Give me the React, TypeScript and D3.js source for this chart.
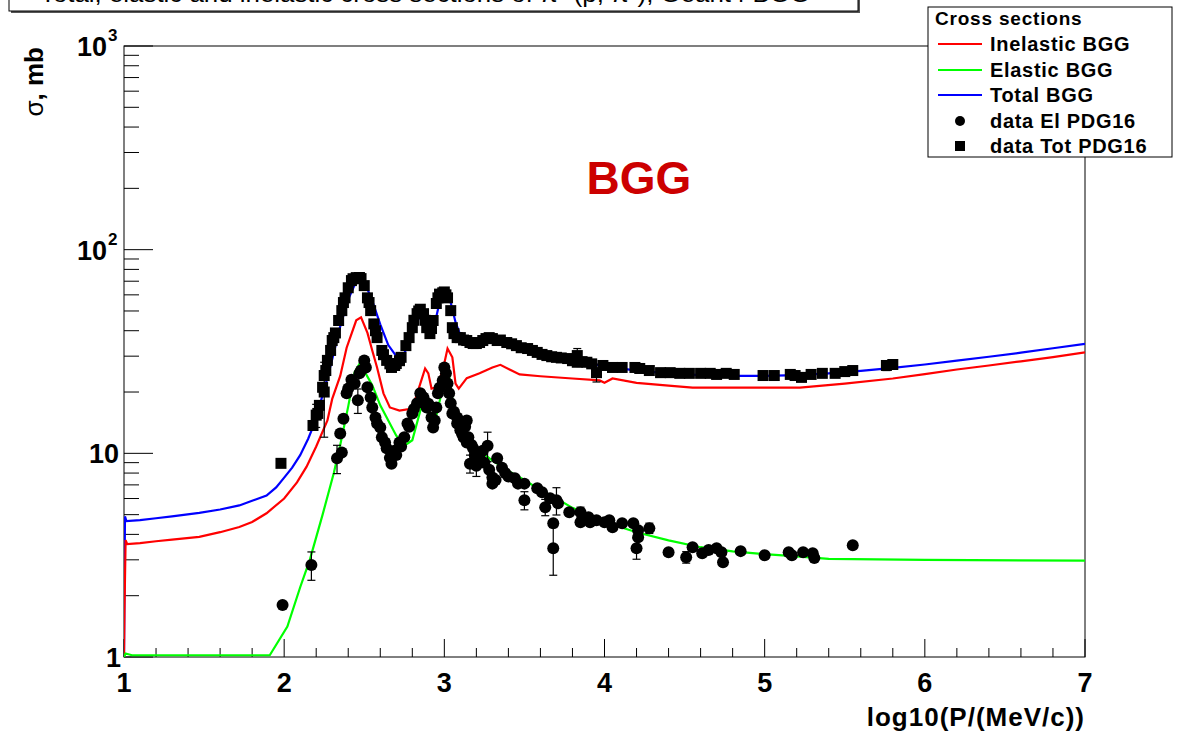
import React from "react";
import * as d3 from "d3";

// ---- data ----
const xTicks = [1, 2, 3, 4, 5, 6, 7];
const yDecades = [1, 10, 100, 1000];

const totalBGG: [number, number][] = [
  [1.0, 1.0], [1.002, 1.75], [1.006, 4.9], [1.015, 4.65], [1.1, 4.7], [1.2, 4.8], [1.3, 4.9], [1.47, 5.1],
  [1.6, 5.3], [1.72, 5.55], [1.8, 5.85], [1.89, 6.2], [1.95, 6.8], [2.0, 7.6], [2.05, 8.5], [2.1, 9.8],
  [2.15, 11.8], [2.18, 13.5], [2.22, 17], [2.26, 22], [2.3, 29], [2.35, 42], [2.4, 57], [2.45, 70],
  [2.48, 73], [2.5, 70], [2.55, 56], [2.6, 43], [2.65, 34], [2.7, 30], [2.75, 31], [2.8, 38], [2.84, 46],
  [2.87, 48], [2.9, 42], [2.93, 40], [2.97, 55], [3.0, 62], [3.03, 59], [3.07, 44], [3.1, 38], [3.15, 35],
  [3.2, 34.5], [3.3, 36], [3.35, 36.5], [3.4, 35.5], [3.5, 33.5], [3.6, 31.5], [3.7, 30], [3.8, 28.8],
  [3.9, 27.7], [4.0, 26.8], [4.2, 25.5], [4.4, 24.7], [4.6, 24.2], [4.8, 24.0], [5.0, 24.0], [5.2, 24.2],
  [5.4, 24.7], [5.6, 25.4], [5.8, 26.3], [6.0, 27.3], [6.2, 28.5], [6.4, 29.8], [6.6, 31.2], [6.8, 32.8],
  [7.0, 34.5],
];

const inelasticBGG: [number, number][] = [
  [1.0, 1.0], [1.003, 1.7], [1.01, 3.75], [1.02, 3.58], [1.1, 3.62], [1.2, 3.7], [1.3, 3.77], [1.47, 3.89],
  [1.6, 4.1], [1.72, 4.35], [1.8, 4.6], [1.89, 5.08], [2.0, 6.0], [2.08, 7.2], [2.14, 8.6], [2.2, 10.8],
  [2.27, 14.5], [2.3, 18.5], [2.35, 24], [2.39, 33], [2.45, 45], [2.48, 46.5], [2.52, 39], [2.55, 32],
  [2.58, 26.4], [2.62, 19.7], [2.66, 16.8], [2.72, 16.2], [2.8, 16.6], [2.85, 22], [2.88, 26.1], [2.9, 24.7],
  [2.92, 20.8], [2.95, 21.1], [2.99, 25.5], [3.02, 32.7], [3.05, 29.6], [3.07, 22], [3.09, 20.8],
  [3.14, 23.4], [3.22, 24.7], [3.3, 26.4], [3.35, 27.2], [3.42, 25.5], [3.47, 24.4], [3.6, 23.9],
  [3.8, 23.3], [3.97, 22.8], [4.0, 22.2], [4.05, 23.3], [4.2, 22.2], [4.4, 21.5], [4.55, 21.0], [5.0, 21.0],
  [5.22, 21.0], [5.5, 22], [5.8, 23.3], [6.0, 24.5], [6.2, 25.8], [6.4, 27.0], [6.6, 28.3], [6.8, 29.7],
  [7.0, 31.3],
];

const elasticBGG: [number, number][] = [
  [1.0, 1.0], [1.01, 1.04], [1.05, 1.02], [1.91, 1.02], [2.02, 1.41], [2.1, 2.2], [2.16, 3.0], [2.24, 5.0],
  [2.31, 8.0], [2.35, 11.0], [2.4, 17], [2.44, 25], [2.47, 27.5], [2.5, 25.4], [2.55, 21.6], [2.6, 17.2],
  [2.7, 12.2], [2.75, 10.9], [2.8, 11.6], [2.85, 16.2], [2.88, 19.2], [2.91, 18], [2.95, 15.3], [3.0, 22.8],
  [3.03, 24.1], [3.06, 16.2], [3.1, 12.9], [3.2, 10.6], [3.3, 9.2], [3.4, 8.2], [3.5, 7.4], [3.6, 6.6],
  [3.7, 6.0], [3.8, 5.4], [3.9, 5.0], [4.0, 4.6], [4.2, 4.1], [4.4, 3.74], [4.6, 3.46], [4.8, 3.3],
  [5.0, 3.2], [5.2, 3.12], [5.4, 3.03], [6.0, 3.0], [7.0, 2.97],
];

// [log10 P, sigma (mb), error (mb)]
const dataElPDG16: [number, number, number][] = [
  [1.99, 1.8, 0], [2.17, 2.83, 0.45], [2.33, 9.45, 1.5], [2.35, 12.5, 0], [2.36, 10.1, 0], [2.37, 14.8, 0],
  [2.39, 19.7, 0], [2.4, 20.8, 0], [2.42, 23, 0], [2.44, 22.0, 0], [2.46, 18.2, 2.5], [2.47, 24.7, 0],
  [2.48, 25.5, 0], [2.5, 28.6, 0],
  [2.51, 26.4, 0], [2.52, 21.1, 0], [2.54, 18.8, 0], [2.55, 16.8, 0], [2.57, 15.0, 0], [2.58, 14, 0],
  [2.6, 13.4, 0], [2.61, 12.0, 0], [2.63, 11.3, 0], [2.64, 10.6, 0], [2.66, 9.5, 0], [2.67, 8.9, 0],
  [2.69, 10.3, 0], [2.7, 9.8, 0], [2.72, 11.3, 0], [2.73, 10.8, 0],
  [2.75, 12.0, 0], [2.77, 14.0, 0], [2.78, 13.5, 0], [2.8, 15.7, 0], [2.81, 16.5, 0], [2.83, 17.6, 0],
  [2.85, 19.7, 0], [2.86, 19, 0], [2.87, 18.8, 0],
  [2.89, 16.8, 0], [2.9, 17.5, 0], [2.92, 15.0, 0], [2.93, 13.4, 0], [2.94, 14.5, 0], [2.95, 16.8, 0],
  [2.96, 19.7, 0], [2.97, 21, 0], [2.99, 22.8, 0],
  [3.0, 26.4, 0], [3.01, 24.7, 0], [3.02, 22.0, 0], [3.03, 19.7, 0], [3.04, 17.6, 0], [3.05, 15.7, 0],
  [3.06, 16, 0], [3.08, 14.0, 0], [3.08, 15.0, 0], [3.09, 14.5, 0], [3.1, 13.0, 0], [3.11, 12.5, 0],
  [3.12, 12, 0], [3.13, 13.5, 0], [3.14, 11.3, 0], [3.14, 14.5, 0],
  [3.15, 12.0, 0], [3.16, 8.9, 0.9], [3.17, 11, 0], [3.18, 10.6, 0], [3.19, 9.8, 0], [3.2, 8.7, 1.0],
  [3.21, 10.0, 0], [3.22, 9.5, 0], [3.24, 10.3, 0], [3.25, 9.0, 0],
  [3.27, 10.9, 1.8], [3.28, 8.3, 0], [3.3, 7.6, 0], [3.3, 7.1, 0], [3.32, 7.4, 0], [3.33, 9.45, 0],
  [3.36, 8.5, 0], [3.38, 8.0, 0], [3.4, 7.7, 0], [3.44, 7.54, 0],
  [3.46, 7.1, 0], [3.5, 7.1, 0], [3.5, 5.88, 0.6], [3.58, 6.74, 0], [3.61, 6.44, 0], [3.63, 5.44, 0.5],
  [3.66, 6.02, 0], [3.68, 4.54, 0], [3.68, 3.42, 0.9], [3.7, 5.88, 0.9], [3.71, 5.69, 0], [3.78, 5.14, 0],
  [3.85, 5.14, 0.3], [3.85, 4.59, 0], [3.9, 4.86, 0], [3.91, 4.59, 0], [3.95, 4.69, 0], [4.0, 4.59, 0],
  [4.03, 4.69, 0], [4.05, 4.34, 0], [4.11, 4.54, 0], [4.18, 4.54, 0], [4.21, 4.19, 0], [4.21, 3.87, 0],
  [4.2, 3.42, 0.4], [4.28, 4.29, 0.25], [4.4, 3.27, 0], [4.51, 3.09, 0.2], [4.55, 3.46, 0], [4.61, 3.23, 0],
  [4.65, 3.35, 0], [4.7, 3.42, 0], [4.73, 3.27, 0], [4.74, 2.92, 0], [4.85, 3.31, 0], [5.0, 3.16, 0],
  [5.15, 3.27, 0], [5.17, 3.16, 0], [5.24, 3.27, 0], [5.3, 3.23, 0], [5.31, 3.06, 0], [5.55, 3.54, 0],
];

const dataTotPDG16: [number, number, number][] = [
  [1.98, 8.93, 0], [2.18, 13.7, 0], [2.2, 15.4, 2.0], [2.21, 15.7, 0], [2.22, 17.2, 0], [2.24, 21.1, 0],
  [2.25, 20, 8], [2.25, 24.1, 0], [2.26, 25.5, 0], [2.27, 28.6, 0], [2.29, 32.0, 0], [2.3, 35.8, 0],
  [2.31, 37, 0], [2.32, 39.0, 0], [2.34, 44.9, 0], [2.36, 50.2, 0], [2.37, 55, 0], [2.38, 58, 0],
  [2.4, 65, 0], [2.42, 70.5, 0], [2.43, 72, 0], [2.45, 72.9, 0], [2.47, 73, 0], [2.48, 72.1, 0],
  [2.5, 66.6, 0], [2.52, 58, 0], [2.53, 55, 0], [2.54, 50.2, 0], [2.56, 43.2, 0], [2.57, 40, 0],
  [2.58, 37.0, 0], [2.61, 32.0, 0], [2.62, 30.5, 0], [2.64, 28.6, 0], [2.66, 27.5, 0], [2.67, 26.4, 0],
  [2.69, 27, 0], [2.7, 27.6, 0], [2.72, 28.5, 0], [2.73, 29.6, 0], [2.76, 33.8, 0], [2.78, 37, 0],
  [2.8, 41.4, 0], [2.81, 45, 0], [2.83, 48.5, 0], [2.84, 50, 0], [2.85, 51, 0], [2.87, 48.5, 0],
  [2.88, 45, 0], [2.89, 41.4, 0], [2.91, 38.7, 0], [2.92, 41, 0], [2.93, 44.9, 0], [2.95, 54.4, 0],
  [2.96, 58, 0], [2.97, 60.5, 0], [2.99, 61.4, 0], [3.0, 62, 0], [3.01, 60, 0], [3.02, 58, 0],
  [3.04, 50.2, 0], [3.05, 41.4, 0], [3.06, 38.7, 0], [3.08, 37.0, 0], [3.1, 37, 0], [3.12, 36, 0],
  [3.14, 35.8, 0], [3.16, 35, 0], [3.18, 34.6, 0], [3.2, 34.6, 0], [3.22, 35.0, 0], [3.24, 35.8, 0],
  [3.26, 36.6, 0], [3.28, 37, 0], [3.3, 36.6, 0], [3.33, 35.8, 0], [3.35, 36, 0], [3.39, 35.0, 0],
  [3.42, 34.5, 0], [3.45, 33.8, 0], [3.48, 33, 0], [3.52, 32.7, 0], [3.55, 32, 0], [3.58, 31.3, 0],
  [3.61, 30.6, 0], [3.64, 30.2, 0], [3.67, 29.8, 0], [3.7, 29.6, 0], [3.73, 29.4, 0], [3.77, 29.2, 0],
  [3.8, 28.5, 0], [3.83, 30.2, 2.5], [3.83, 28.0, 0], [3.86, 28.2, 0], [3.89, 28.0, 0], [3.92, 27.5, 0],
  [3.95, 24.9, 2.5], [3.99, 27.0, 0], [4.05, 26.4, 0], [4.11, 26.4, 0], [4.19, 26.4, 0], [4.22, 26.1, 1.3],
  [4.28, 25.5, 0], [4.35, 24.9, 0], [4.41, 24.9, 0], [4.47, 24.7, 0], [4.53, 24.7, 0], [4.6, 24.7, 0],
  [4.66, 24.7, 0], [4.7, 24.4, 0], [4.76, 24.7, 0], [4.81, 24.4, 0], [4.99, 24.1, 0], [5.06, 24.1, 0],
  [5.16, 24.4, 0], [5.19, 24.1, 0], [5.23, 23.6, 0], [5.29, 24.4, 0], [5.36, 24.7, 0], [5.44, 24.7, 0],
  [5.5, 25.2, 0], [5.55, 25.5, 0], [5.76, 27.0, 1.5], [5.8, 27.3, 0],
];

const legendEntries = [
  { label: "Inelastic BGG", kind: "line", color: "#ff0000" },
  { label: "Elastic BGG", kind: "line", color: "#00ff00" },
  { label: "Total BGG", kind: "line", color: "#0000ff" },
  { label: "data El PDG16", kind: "circle", color: "#000" },
  { label: "data Tot PDG16", kind: "square", color: "#000" },
];

const FONT = "'Liberation Sans', Arial, Helvetica, sans-serif";

export default function App() {
  const W = 1185, H = 735;
  const fx0 = 124, fx1 = 1085, fy0 = 46, fy1 = 657;
  const x = d3.scaleLinear().domain([1, 7]).range([fx0, fx1]);
  const y = d3.scaleLog().domain([1, 1000]).range([fy1, fy0]);

  const line = d3.line<[number, number]>().x(d => x(d[0])).y(d => y(d[1]));

  const xMinor: number[] = [];
  for (let i = 0; i <= 30; i++) xMinor.push(1 + i * 0.2);
  const yMinor: number[] = [];
  for (const dec of [1, 10, 100]) for (let m = 2; m <= 9; m++) yMinor.push(dec * m);

  const errBars = (arr: [number, number, number][]) =>
    arr.filter(d => d[2] > 0).map((d, i) => {
      const cx = x(d[0]);
      const yt = y(d[1] + d[2]);
      const yb = y(Math.max(d[1] - d[2], 1.0001));
      return (
        <g key={i} stroke="#000" strokeWidth={1.2}>
          <line x1={cx} x2={cx} y1={yt} y2={yb} />
          <line x1={cx - 4} x2={cx + 4} y1={yt} y2={yt} />
          <line x1={cx - 4} x2={cx + 4} y1={yb} y2={yb} />
        </g>
      );
    });

  const legendRowY = [44, 70, 95, 121, 146];

  return (
    <svg width={W} height={H} style={{ position: "absolute", left: 0, top: 0, background: "#fff" }}
      fontFamily={FONT} fontWeight="bold">
      <defs>
        <clipPath id="frameClip">
          <rect x={fx0} y={fy0} width={fx1 - fx0} height={fy1 - fy0} />
        </clipPath>
      </defs>
      <rect x={0} y={0} width={W} height={H} fill="#fff" />

      {/* title box, mostly cut off as in the original */}
      <rect x={11} y={-28} width={849} height={41} fill="#555" />
      <rect x={9} y={-30} width={849} height={41} fill="#fff" stroke="#000" strokeWidth={1} />
      <text x={425} y={2} textAnchor="middle" fontSize={24} fontWeight="normal" fill="#000"
        textLength={770} lengthAdjust="spacingAndGlyphs">
        Total, elastic and inelastic cross sections of π⁻ (p, π⁻), Geant4 BGG
      </text>

      {/* frame */}
      <rect x={fx0} y={fy0} width={fx1 - fx0} height={fy1 - fy0} fill="none" stroke="#000" strokeWidth={1} />

      {/* x ticks */}
      {xMinor.map((v, i) => {
        const major = Math.abs(v - Math.round(v)) < 1e-6;
        return <line key={"xm" + i} x1={x(v)} x2={x(v)} y1={fy1} y2={fy1 - (major ? 18 : 9)} stroke="#000" />;
      })}
      {/* y ticks */}
      {yDecades.map((v, i) => (
        <line key={"yd" + i} x1={fx0} x2={fx0 + 29} y1={y(v)} y2={y(v)} stroke="#000" />
      ))}
      {yMinor.map((v, i) => (
        <line key={"ym" + i} x1={fx0} x2={fx0 + 15} y1={y(v)} y2={y(v)} stroke="#000" />
      ))}

      {/* x tick labels */}
      {xTicks.map(v => (
        <text key={"xl" + v} x={x(v)} y={692} textAnchor="middle" fontSize={27} fill="#000">{v}</text>
      ))}
      {/* y tick labels */}
      <text x={121} y={y(1) + 10} textAnchor="end" fontSize={27}>1</text>
      <text x={119} y={y(10) + 10} textAnchor="end" fontSize={27}>10</text>
      <text x={107} y={y(100) + 10} textAnchor="end" fontSize={27}>10</text>
      <text x={108} y={y(100) - 5} fontSize={17}>2</text>
      <text x={107} y={y(1000) + 10} textAnchor="end" fontSize={27}>10</text>
      <text x={108} y={y(1000) - 5} fontSize={17}>3</text>

      {/* axis titles */}
      <text x={1085} y={726} textAnchor="end" fontSize={26} letterSpacing={1}>log10(P/(MeV/c))</text>
      <text transform="translate(43,47) rotate(-90)" textAnchor="end" fontSize={26}>
        <tspan fontWeight="normal">σ</tspan>, mb
      </text>

      {/* curves */}
      <g clipPath="url(#frameClip)" fill="none" strokeWidth={2.2}>
        <path d={line(totalBGG) || ""} stroke="#0000ff" />
        <path d={line(inelasticBGG) || ""} stroke="#ff0000" />
        <path d={line(elasticBGG) || ""} stroke="#00ff00" />
      </g>

      {/* data */}
      <g clipPath="url(#frameClip)">
        {errBars(dataTotPDG16)}
        {errBars(dataElPDG16)}
        {dataTotPDG16.map((d, i) => (
          <rect key={"t" + i} x={x(d[0]) - 5.5} y={y(d[1]) - 5.5} width={11} height={11} fill="#000" />
        ))}
        {dataElPDG16.map((d, i) => (
          <circle key={"e" + i} cx={x(d[0])} cy={y(d[1])} r={6} fill="#000" />
        ))}
      </g>

      {/* BGG label */}
      <text x={639} y={194} textAnchor="middle" fontSize={46} fill="#cc0000">BGG</text>

      {/* legend */}
      <rect x={928} y={7} width={244} height={150} fill="#fff" stroke="#000" strokeWidth={1} />
      <text x={935} y={25} fontSize={19} letterSpacing={0.8}>Cross sections</text>
      {legendEntries.map((e, i) => {
        const cy = legendRowY[i];
        return (
          <g key={"lg" + i}>
            {e.kind === "line" && <line x1={938} x2={982} y1={cy} y2={cy} stroke={e.color} strokeWidth={2.2} />}
            {e.kind === "circle" && <circle cx={960} cy={cy} r={5} fill="#000" />}
            {e.kind === "square" && <rect x={955} y={cy - 5} width={10} height={10} fill="#000" />}
            <text x={990} y={cy + 7} fontSize={20} letterSpacing={0.7}>{e.label}</text>
          </g>
        );
      })}
    </svg>
  );
}
